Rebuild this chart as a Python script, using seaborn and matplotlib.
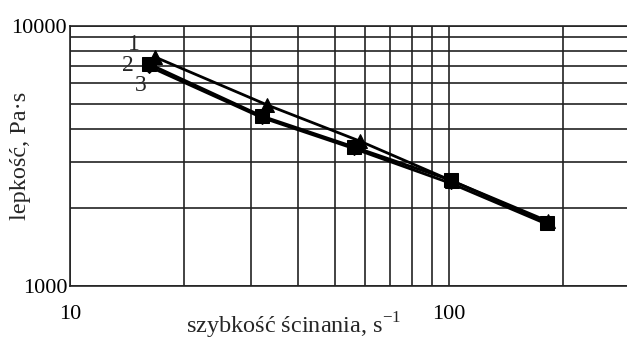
import numpy as np
import pandas as pd
import matplotlib
matplotlib.use("Agg")
import matplotlib.pyplot as plt
import seaborn as sns

# shear rate [1/s] and viscosity [Pa*s]
rate_1 = [16.8, 33.2, 58.2, 102, 183]
visc_1 = [7560, 4950, 3600, 2530, 1770]
rate_2 = [16.2, 32.1, 56.1, 101, 181]
visc_2 = [7110, 4490, 3420, 2550, 1750]
rate_3 = [16.2, 32.1, 56.1, 101, 181]
visc_3 = [6950, 4430, 3370, 2480, 1730]

series_names = ["1", "2", "3"]
series_markers = ["^", "s", "D"]

df = pd.concat([
    pd.DataFrame({"rate": rate_1, "visc": visc_1, "series": "1"}),
    pd.DataFrame({"rate": rate_2, "visc": visc_2, "series": "2"}),
    pd.DataFrame({"rate": rate_3, "visc": visc_3, "series": "3"}),
])

sns.set_style("white")
plt.rcParams["font.family"] = ["Liberation Serif", "DejaVu Serif"]
plt.rcParams["mathtext.fontset"] = "custom"
plt.rcParams["mathtext.rm"] = "Liberation Serif"

fig = plt.figure(figsize=(6.27, 3.45), dpi=100)
ax = fig.add_axes([0.1116, 0.171, 0.8884, 0.755])

for name, mk in zip(series_names, series_markers):
    d = df[df["series"] == name]
    sns.lineplot(data=d, x="rate", y="visc", ax=ax, color="black",
                 marker=mk, markersize=10 if mk != "D" else 6,
                 markeredgecolor="black", linewidth=2.0, sort=False,
                 legend=False)

ax.set_xscale("log")
ax.set_yscale("log")
ax.set_xlim(10, 295)
ax.set_ylim(1000, 10000)

ax.set_xticks([10, 100])
ax.set_xticklabels(["10", "100"])
ax.set_yticks([1000, 10000])
ax.set_yticklabels(["1000", "10000"])
ax.set_xticks(list(range(20, 100, 10)) + [200], minor=True)
ax.set_yticks(list(range(2000, 10000, 1000)), minor=True)
ax.xaxis.set_minor_formatter(matplotlib.ticker.NullFormatter())
ax.yaxis.set_minor_formatter(matplotlib.ticker.NullFormatter())

ax.grid(True, which="both", color="#222222", linewidth=1.2)
ax.tick_params(which="both", length=0, labelsize=16, colors="black")
ax.tick_params(axis="x", pad=14)
ax.tick_params(axis="y", pad=2)

for s in ["left", "top", "bottom"]:
    ax.spines[s].set_color("#222222")
    ax.spines[s].set_linewidth(1.2)
ax.spines["right"].set_visible(False)

ax.set_xlabel("szybkość ścinania, s$^{\\mathregular{-1}}$", fontsize=17.5)
ax.set_ylabel("lepkość, Pa·s", fontsize=17.5)
ax.xaxis.set_label_coords(0.402, -0.095)
ax.yaxis.set_label_coords(-0.07, 0.5)

label_pos = {"1": (14.7, 8420), "2": (14.2, 7050), "3": (15.4, 5910)}
for name in series_names:
    lx, ly = label_pos[name]
    ax.text(lx, ly, name, fontsize=17, ha="center", va="center")

fig.savefig("out.png", dpi=100)
